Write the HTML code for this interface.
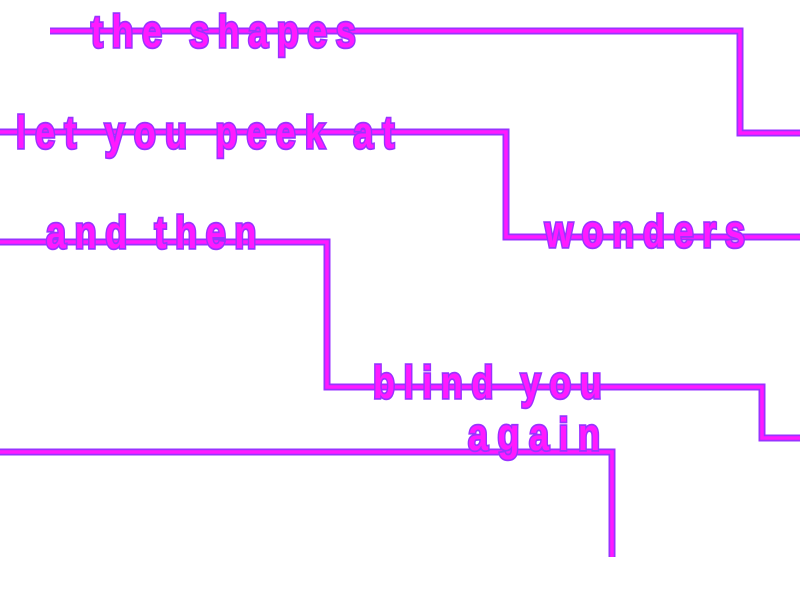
<!DOCTYPE html>
<html><head><style>html,body{margin:0;padding:0;background:#fff;width:800px;height:600px;overflow:hidden}</style></head>
<body>
<svg width="800" height="600" viewBox="0 0 800 600" xmlns="http://www.w3.org/2000/svg">
<g fill="none" stroke-linejoin="miter">
<g stroke="#9933ff" stroke-width="7">
<polyline points="50,31 740,31 740,133 800,133"/>
<polyline points="0,132 506,132 506,237 800,237"/>
<polyline points="0,242 327,242 327,387 762,387 762,438 800,438"/>
<polyline points="0,452 612,452 612,557"/>
</g>
<g stroke="#ff1aff" stroke-width="3.5">
<polyline points="50,31 740,31 740,133 800,133"/>
<polyline points="0,132 506,132 506,237 800,237"/>
<polyline points="0,242 327,242 327,387 762,387 762,438 800,438"/>
<polyline points="0,452 612,452 612,557"/>
</g>
</g>
<g font-family="Liberation Sans, sans-serif" font-weight="bold" font-size="45" fill="#ff1aff" stroke="#9933ff" stroke-width="3.5" paint-order="stroke">
<g transform="translate(91,47) scale(0.8,1)"><text x="0" y="0" textLength="331" lengthAdjust="spacing">the shapes</text></g>
<g transform="translate(16,148) scale(0.8,1)"><text x="0" y="0" textLength="473" lengthAdjust="spacing">let you peek at</text></g>
<g transform="translate(46,248) scale(0.8,1)"><text x="0" y="0" textLength="263" lengthAdjust="spacing">and then</text></g>
<g transform="translate(545,247) scale(0.8,1)"><text x="0" y="0" textLength="250" lengthAdjust="spacing">wonders</text></g>
<g transform="translate(373,398) scale(0.8,1)"><text x="0" y="0" textLength="286" lengthAdjust="spacing">blind you</text></g>
<g transform="translate(468,450) scale(0.8,1)"><text x="0" y="0" textLength="165" lengthAdjust="spacing">again</text></g>
</g>
</svg>
</body></html>
